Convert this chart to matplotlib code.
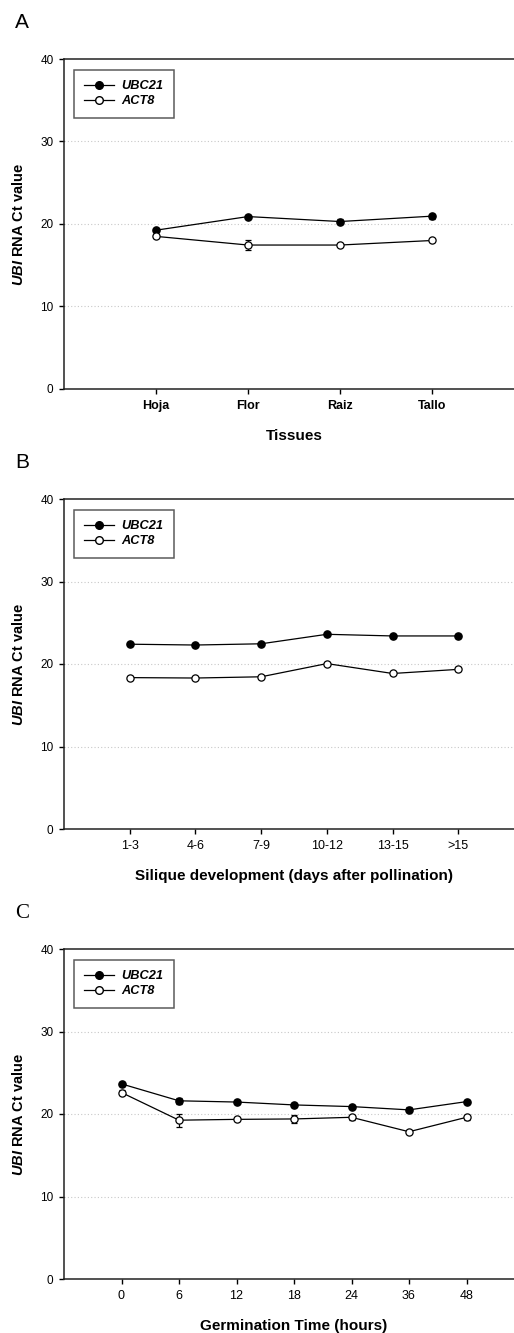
import matplotlib
matplotlib.use("Agg")
import matplotlib.pyplot as plt
from matplotlib.lines import Line2D

plt.rcParams['font.family'] = ['Liberation Sans', 'DejaVu Sans']
plt.rcParams['mathtext.fontset'] = 'custom'
plt.rcParams['mathtext.bf'] = 'Liberation Sans:bold'
plt.rcParams['mathtext.it'] = 'Liberation Sans:italic:bold'
plt.rcParams['mathtext.rm'] = 'Liberation Sans:bold'

# ---------------- data ----------------
tissues = ["Hoja", "Flor", "Raiz", "Tallo"]
a_ubc21 = [19.25, 20.9, 20.3, 20.95]
a_ubc21_err = [0.15, 0.2, 0.35, 0.3]
a_act8 = [18.5, 17.45, 17.45, 18.0]
a_act8_err = [0.2, 0.6, 0.15, 0.2]

silique = ["1-3", "4-6", "7-9", "10-12", "13-15", ">15"]
b_ubc21 = [22.4, 22.3, 22.45, 23.6, 23.4, 23.4]
b_ubc21_err = [0.15, 0.15, 0.15, 0.15, 0.15, 0.2]
b_act8 = [18.35, 18.3, 18.45, 20.05, 18.85, 19.35]
b_act8_err = [0.15, 0.15, 0.15, 0.15, 0.15, 0.25]

germ = ["0", "6", "12", "18", "24", "36", "48"]
c_ubc21 = [23.65, 21.6, 21.45, 21.1, 20.9, 20.5, 21.5]
c_ubc21_err = [0.2, 0.35, 0.2, 0.2, 0.2, 0.3, 0.2]
c_act8 = [22.6, 19.25, 19.35, 19.4, 19.6, 17.85, 19.6]
c_act8_err = [0.25, 0.8, 0.2, 0.45, 0.3, 0.2, 0.3]

y_ticks = [0, 10, 20, 30, 40]
grid_levels = [10, 20, 30]

W, H = 514, 1333
fig = plt.figure(figsize=(W / 100, H / 100), dpi=100)

panels = [
    dict(letter="A", letter_font="Liberation Sans", top=59, cats=tissues,
         u=a_ubc21, ue=a_ubc21_err, a=a_act8, ae=a_act8_err,
         xlabel="Tissues", tickbold=True),
    dict(letter="B", letter_font="Liberation Sans", top=499, cats=silique,
         u=b_ubc21, ue=b_ubc21_err, a=b_act8, ae=b_act8_err,
         xlabel="Silique development (days after pollination)", tickbold=False),
    dict(letter="C", letter_font="Liberation Serif", top=949, cats=germ,
         u=c_ubc21, ue=c_ubc21_err, a=c_act8, ae=c_act8_err,
         xlabel="Germination Time (hours)", tickbold=False),
]

ax_left, ax_w, ax_h = 64, 460, 330
for p in panels:
    top = p["top"]
    ax = fig.add_axes([ax_left / W, (H - top - ax_h) / H, ax_w / W, ax_h / H])
    n = len(p["cats"])
    x = list(range(1, n + 1))
    ax.set_xlim(0, n + 1)
    ax.set_ylim(0, 40)
    for g in grid_levels:
        ax.axhline(g, color="#c8c8c8", lw=0.8, ls=(0, (1, 2)), zorder=0)
    ax.errorbar(x, p["u"], yerr=p["ue"], color="black", lw=0.9, marker="o",
                ms=5.2, mfc="black", mec="black", capsize=2.2, elinewidth=0.9,
                capthick=0.9, zorder=3)
    ax.errorbar(x, p["a"], yerr=p["ae"], color="black", lw=0.9, marker="o",
                ms=5.2, mfc="white", mec="black", mew=0.9, capsize=2.2,
                elinewidth=0.9, capthick=0.9, zorder=3)
    ax.set_xticks(x)
    ax.set_xticklabels(p["cats"], fontsize=9,
                       fontweight="bold" if p["tickbold"] else "normal")
    ax.set_yticks(y_ticks)
    ax.set_yticklabels([str(t) for t in y_ticks], fontsize=8.5)
    ax.tick_params(direction="out", length=3.6, width=1.0, pad=4)
    for s in ["left", "bottom", "top", "right"]:
        ax.spines[s].set_linewidth(1.1)
        ax.spines[s].set_color("#222222")
    ax.set_xlabel(p["xlabel"], fontsize=11, fontweight="bold")
    ax.xaxis.set_label_coords(0.5, -40 / ax_h)
    ax.set_ylabel(r"$\mathit{UBI}$ RNA Ct value", fontsize=10.5,
                  fontweight="bold", va="center")
    ax.yaxis.set_label_coords(-45 / ax_w, 0.5)

    handles = [
        Line2D([], [], color="black", lw=0.9, marker="o", ms=5.5,
               mfc="black", mec="black"),
        Line2D([], [], color="black", lw=0.9, marker="o", ms=5.5,
               mfc="white", mec="black"),
    ]
    leg = ax.legend(handles, ["UBC21", "ACT8"], loc="upper left",
                    bbox_to_anchor=(10 / ax_w, 1 - 11 / ax_h),
                    borderaxespad=0, frameon=True, fancybox=False,
                    prop=dict(family="Liberation Sans", style="italic",
                              weight="bold", size=9.2),
                    handlelength=2.3, handletextpad=0.6, borderpad=0.8,
                    labelspacing=0.25)
    leg.get_frame().set_edgecolor("#333333")
    leg.get_frame().set_linewidth(1.1)

    fig.text(15 / W, 1 - (top - 36) / H, p["letter"], fontsize=15,
             family=p["letter_font"], ha="left", va="center")

fig.savefig("out.png", dpi=100)
